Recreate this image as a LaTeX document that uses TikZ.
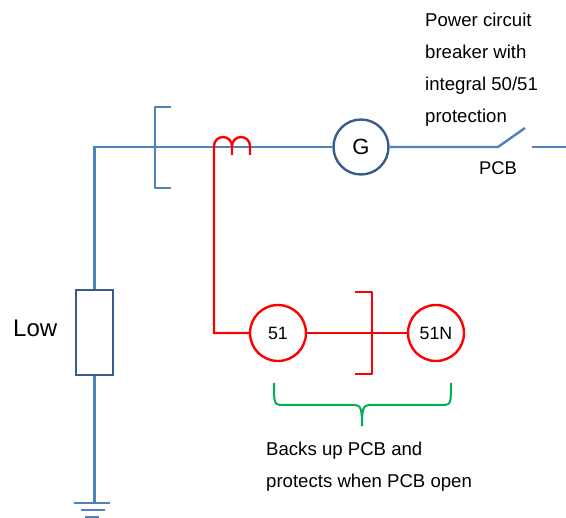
\documentclass[tikz,border=0pt]{standalone}
\usepackage{fontspec}
\setmainfont{Liberation Sans}
\usetikzlibrary{positioning, calc}
\definecolor{wireblue}{RGB}{79,129,189}
\definecolor{darkblue}{RGB}{56,93,138}
\definecolor{bracegreen}{RGB}{0,176,80}

\begin{document}
\begin{tikzpicture}[x=1pt, y=-1pt,
    wire/.style={line width=2.4pt, draw=wireblue},
    relaywire/.style={line width=2.4pt, draw=red},
    brace/.style={line width=2pt, draw=bracegreen},
    relay/.style={circle, draw=red, line width=2.4pt, minimum size=56pt, inner sep=0pt, font=\fontsize{17.8}{18}\selectfont},
    label/.style={align=left, inner sep=0pt, font=\fontsize{18.6}{32}\selectfont}]
    \useasboundingbox (0,0) rectangle (566,518);

    \node[circle, draw=darkblue, line width=2.4pt, minimum size=55pt, inner sep=0pt, font=\fontsize{22}{22}\selectfont] (gen) at (361,147) {G};
    \node[rectangle, draw=darkblue, line width=2.4pt, minimum width=37pt, minimum height=85pt, inner sep=0pt] (load) at (94.5,332.5) {};
    \node[relay] (r51) at (278,333) {51};
    \node[relay] (r51n) at (436,333) {51N};

    \node[label, font=\fontsize{24}{24}\selectfont, anchor=west] (low) at (13,328) {Low};
    \node[label, anchor=north west] (pcbtext) at (425,13) {Power circuit\\breaker with\\integral 50/51\\protection};
    \node[label, anchor=center, font=\fontsize{18.4}{18.4}\selectfont] (pcb) at (498,168) {PCB};
    \node[label, anchor=north west] (backup) at (266,442) {Backs up PCB and\\protects when PCB open};

    \coordinate (corner) at (94.5,147);
    \coordinate (swA) at (498,147);
    \coordinate (swB) at (525,128);
    \coordinate (swC) at (532,147);
    \coordinate (swD) at (566,147);
    \coordinate (gnd) at (94.5,503);
    \coordinate (coil) at (214,146);
    \coordinate (ctTop) at (155,107);
    \coordinate (ctBot) at (155,188);
    \coordinate (tieTop) at (372,292);
    \coordinate (tieBot) at (372,374);

    \draw[wire] (gen) -- (corner) -- (load);
    \draw[wire] (load) -- (gnd);
    \draw[wire] (gen) -- (swA) -- (swB);
    \draw[wire] (swC) -- (swD);
    \draw[wire] ($(gnd)+(-21,0)$) -- ($(gnd)+(15,0)$);
    \draw[wire] ($(gnd)+(-14,7)$) -- ($(gnd)+(10,7)$);
    \draw[wire] ($(gnd)+(-10,14)$) -- ($(gnd)+(4,14)$);
    \draw[wire, line join=round] ($(ctTop)+(16,0)$) -- (ctTop) -- (ctBot) -- ($(ctBot)+(16,0)$);

    \draw[relaywire] (r51) -| (coil) arc (180:360:9) -- ++(0,9);
    \draw[relaywire] ($(coil)+(18,0)$) arc (180:360:9) -- ++(0,9);
    \draw[relaywire] (r51) -- (r51n);
    \draw[relaywire, line join=round] ($(tieTop)+(-17,0)$) -- (tieTop) -- (tieBot) -- ($(tieBot)+(-17,0)$);

    \draw[brace] (274,383) .. controls (274,400) and (274,405) .. (280,405) -- (355,405) .. controls (361,405) and (362,410) .. (362,426);
    \draw[brace] (451,383) .. controls (451,400) and (451,405) .. (445,405) -- (369,405) .. controls (363,405) and (362,410) .. (362,426);
\end{tikzpicture}
\end{document}
